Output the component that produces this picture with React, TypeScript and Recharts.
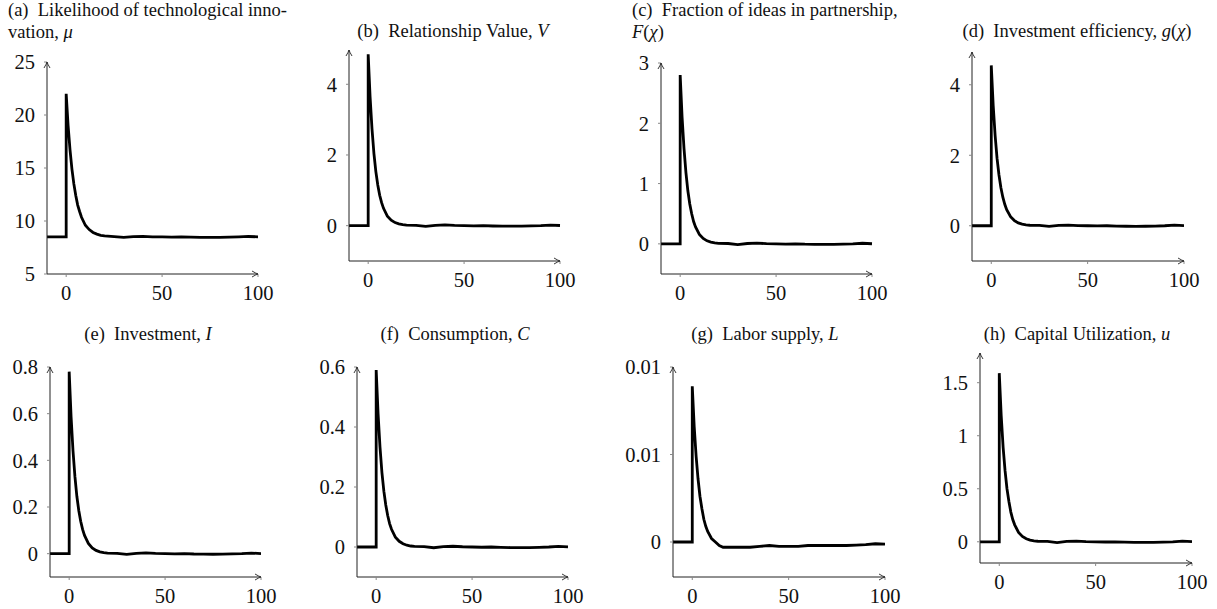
import { LineChart, Line, XAxis, YAxis, ReferenceDot } from 'recharts';

// shared time axis (periods after the shock); 0 appears twice for the jump
const time = [-10, 0, 0, 1, 2, 3, 4, 5, 6, 7, 8, 10, 12, 14, 16, 18, 20, 25, 30, 35, 40, 45, 50, 55, 60, 65, 70, 75, 80, 85, 90, 95, 100];

const innovation = [8.5, 8.5, 22, 19.0, 16.7, 14.9, 13.5, 12.4, 11.5, 10.9, 10.35, 9.6, 9.19, 8.92, 8.76, 8.65, 8.59, 8.52, 8.45, 8.52, 8.55, 8.51, 8.5, 8.48, 8.5, 8.47, 8.46, 8.46, 8.46, 8.48, 8.5, 8.54, 8.51];
const relValue = [0, 0, 4.85, 3.64, 2.73, 2.04, 1.53, 1.15, 0.86, 0.65, 0.49, 0.27, 0.155, 0.087, 0.05, 0.027, 0.015, 0.01, -0.02, 0.01, 0.02, 0.006, 0, -0.006, 0, -0.01, -0.014, -0.016, -0.014, -0.008, 0, 0.016, 0.004];
const ideasFraction = [0, 0, 2.8, 2.1, 1.58, 1.18, 0.88, 0.66, 0.5, 0.37, 0.28, 0.157, 0.09, 0.05, 0.028, 0.016, 0.009, 0.006, -0.012, 0.006, 0.012, 0.004, 0, -0.004, 0, -0.006, -0.008, -0.01, -0.008, -0.005, 0, 0.01, 0.002];
const efficiency = [0, 0, 4.55, 3.41, 2.56, 1.91, 1.44, 1.08, 0.81, 0.61, 0.455, 0.255, 0.146, 0.082, 0.046, 0.025, 0.014, 0.01, -0.02, 0.01, 0.02, 0.006, 0, -0.006, 0, -0.01, -0.014, -0.016, -0.014, -0.008, 0, 0.016, 0.004];
const investment = [0, 0, 0.78, 0.585, 0.44, 0.33, 0.246, 0.185, 0.139, 0.104, 0.078, 0.044, 0.025, 0.014, 0.008, 0.0044, 0.0025, 0.0015, -0.003, 0.0015, 0.003, 0.001, 0, -0.001, 0, -0.0015, -0.002, -0.0024, -0.002, -0.0012, 0, 0.0024, 0.0006];
const consumption = [0, 0, 0.59, 0.443, 0.332, 0.248, 0.186, 0.14, 0.105, 0.078, 0.059, 0.033, 0.019, 0.011, 0.006, 0.0033, 0.0018, 0.0012, -0.0025, 0.0012, 0.0025, 0.0008, 0, -0.0008, 0, -0.0012, -0.0018, -0.002, -0.0018, -0.001, 0, 0.002, 0.0005];
const labor = [0, 0, 0.0089, 0.0066, 0.0049, 0.0036, 0.0026, 0.0019, 0.0013, 0.0009, 0.0006, 0.0002, 0, -0.0002, -0.0003, -0.0003, -0.0003, -0.0003, -0.0003, -0.00025, -0.0002, -0.00025, -0.00025, -0.00025, -0.0002, -0.0002, -0.0002, -0.0002, -0.0002, -0.00018, -0.00015, -0.0001, -0.00012];
const utilization = [0, 0, 1.59, 1.19, 0.89, 0.67, 0.5, 0.38, 0.28, 0.21, 0.16, 0.089, 0.051, 0.029, 0.016, 0.009, 0.005, 0.0035, -0.007, 0.0035, 0.007, 0.002, 0, -0.002, 0, -0.0035, -0.005, -0.0056, -0.005, -0.0028, 0, 0.0056, 0.0014];

const xTicks = [0, 50, 100];
const tickA = [5, 10, 15, 20, 25];
const tickB = [0, 2, 4];
const tickC = [0, 1, 2, 3];
const tickE = [0, 0.2, 0.4, 0.6, 0.8];
const tickF = [0, 0.2, 0.4, 0.6];
const tickG = [0, 0.005, 0.01];
const tickGLabels = ['0', '0.01', '0.01'];
const tickH = [0, 0.5, 1, 1.5];

const FONT = '"Liberation Serif", "DejaVu Serif", serif';
const L = 60, R = 25, T = 15, B = 40;

const XArrow = (p: any) => (
  <path d={`M${p.cx - 6},${p.cy - 3} Q${p.cx - 2},${p.cy - 0.6} ${p.cx},${p.cy} Q${p.cx - 2},${p.cy + 0.6} ${p.cx - 6},${p.cy + 3}`}
    fill="none" stroke="#222" strokeWidth={0.9} />
);
const YArrow = (p: any) => (
  <path d={`M${p.cx - 3},${p.cy + 6} Q${p.cx - 0.6},${p.cy + 2} ${p.cx},${p.cy} Q${p.cx + 0.6},${p.cy + 2} ${p.cx + 3},${p.cy + 6}`}
    fill="none" stroke="#222" strokeWidth={0.9} />
);

interface PanelProps {
  values: number[];
  x0: number; x1: number; yTop: number; yBot: number;
  domain: [number, number];
  ticks: number[];
  labels?: string[];
}

function Panel({ values, x0, x1, yTop, yBot, domain, ticks, labels }: PanelProps) {
  const data = time.map((t, i) => ({ t, v: values[i] }));
  const fmt = (v: number) => {
    if (labels) {
      const k = ticks.indexOf(v);
      return k >= 0 ? labels[k] : String(v);
    }
    return String(v);
  };
  return (
    <div style={{ position: 'absolute', left: x0 - L, top: yTop - T }}>
      <LineChart width={x1 - x0 + L + R} height={yBot - yTop + T + B} data={data}
        margin={{ top: T, right: R, bottom: 0, left: 0 }}>
        <XAxis dataKey="t" type="number" domain={[-10, 100]} ticks={xTicks} interval={0} height={B}
          tickSize={3} tickMargin={8} axisLine={{ stroke: '#222' }} tickLine={{ stroke: '#888' }}
          tick={{ fill: '#111', fontSize: 20.5, fontFamily: FONT }} />
        <YAxis type="number" domain={domain} ticks={ticks} interval={0} width={L} tickFormatter={fmt}
          tickSize={3} tickMargin={9} axisLine={{ stroke: '#222' }} tickLine={{ stroke: '#888' }}
          tick={{ fill: '#111', fontSize: 20.5, fontFamily: FONT }} />
        <Line dataKey="v" type="linear" stroke="#000" strokeWidth={2.8} dot={false} isAnimationActive={false} />
        <ReferenceDot x={100} y={domain[0]} ifOverflow="visible" shape={XArrow} />
        <ReferenceDot x={-10} y={domain[1]} ifOverflow="visible" shape={YArrow} />
      </LineChart>
    </div>
  );
}

const titleStyle = { position: 'absolute' as const, fontFamily: FONT, fontSize: 18.5, lineHeight: '22px', color: '#111', whiteSpace: 'nowrap' as const };

function Title({ cx, cy, children }: { cx: number; cy: number; children: any }) {
  return <div style={{ ...titleStyle, left: cx - 160, width: 320, top: cy - 11, textAlign: 'center' }}>{children}</div>;
}

export default function App() {
  return (
    <div style={{ position: 'absolute', left: 0, top: 0, width: 1217, height: 609, background: '#fff' }}>
      <div style={{ ...titleStyle, left: 8, top: -1 }}>(a)&nbsp;&nbsp;Likelihood of technological inno-<br />vation, <i>μ</i></div>
      <Title cx={453} cy={31}>(b)&nbsp;&nbsp;Relationship Value, <i>V</i></Title>
      <div style={{ ...titleStyle, left: 632, top: -1 }}>(c)&nbsp;&nbsp;Fraction of ideas in partnership,<br /><i>F</i>(<i>χ</i>)</div>
      <Title cx={1077} cy={31}>(d)&nbsp;&nbsp;Investment efficiency, <i>g</i>(<i>χ</i>)</Title>
      <Title cx={148} cy={334}>(e)&nbsp;&nbsp;Investment, <i>I</i></Title>
      <Title cx={455} cy={334}>(f)&nbsp;&nbsp;Consumption, <i>C</i></Title>
      <Title cx={765} cy={334}>(g)&nbsp;&nbsp;Labor supply, <i>L</i></Title>
      <Title cx={1077} cy={334}>(h)&nbsp;&nbsp;Capital Utilization, <i>u</i></Title>

      <Panel values={innovation} x0={47} x1={258} yTop={62} yBot={274} domain={[5, 25]} ticks={tickA} />
      <Panel values={relValue} x0={349} x1={560} yTop={50} yBot={261} domain={[-1, 4.97]} ticks={tickB} />
      <Panel values={ideasFraction} x0={661} x1={872} yTop={63} yBot={274} domain={[-0.5, 3]} ticks={tickC} />
      <Panel values={efficiency} x0={972} x1={1184} yTop={52} yBot={261} domain={[-1, 4.93]} ticks={tickB} />
      <Panel values={investment} x0={50} x1={261} yTop={367} yBot={577} domain={[-0.1, 0.8]} ticks={tickE} />
      <Panel values={consumption} x0={357} x1={568} yTop={367} yBot={577} domain={[-0.1, 0.6]} ticks={tickF} />
      <Panel values={labor} x0={673} x1={885} yTop={367} yBot={577} domain={[-0.002, 0.01]} ticks={tickG} labels={tickGLabels} />
      <Panel values={utilization} x0={980} x1={1192} yTop={353} yBot={563} domain={[-0.2, 1.78]} ticks={tickH} />
    </div>
  );
}
